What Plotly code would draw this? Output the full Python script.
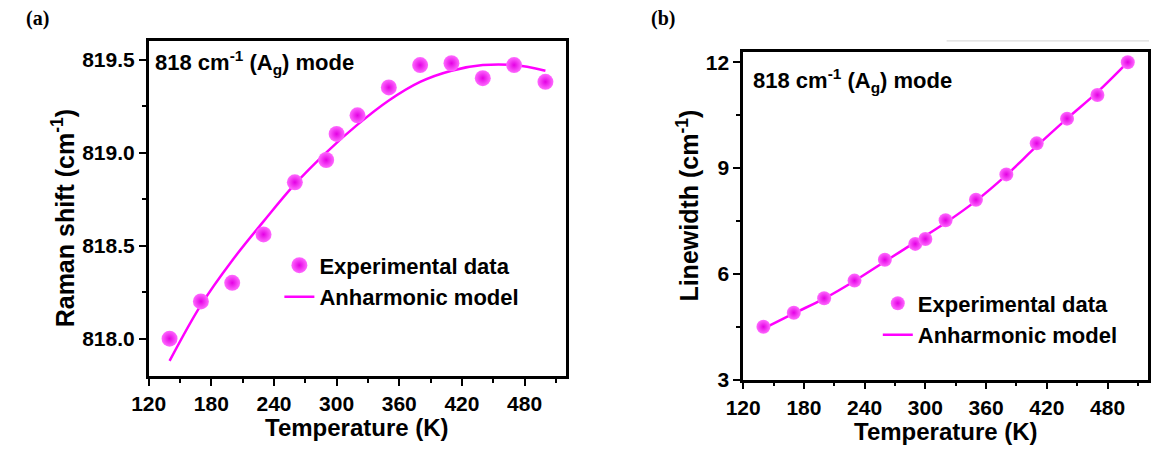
import plotly.graph_objects as go

# Temperature points (K)
temperature = [140, 170, 200, 230, 260, 290, 300, 320, 350, 380, 410, 440, 470, 500]

# (a) Raman shift of the 818 cm-1 Ag mode
raman_shift = [818.00, 818.20, 818.30, 818.56, 818.84, 818.96, 819.10, 819.20,
               819.35, 819.47, 819.48, 819.40, 819.47, 819.38]
fit_temperature_a = [140, 170, 200, 230, 260, 290, 320, 350, 380, 410, 440, 470, 500]
fit_raman_shift = [817.88, 818.18, 818.42, 818.63, 818.83, 819.00, 819.15, 819.28,
                   819.38, 819.44, 819.47, 819.47, 819.44]

# (b) Linewidth of the same mode
linewidth = [4.50, 4.90, 5.31, 5.81, 6.40, 6.85, 6.99, 7.52, 8.10, 8.82, 9.70,
             10.40, 11.07, 12.00]
fit_temperature_b = [140, 170, 200, 230, 260, 290, 320, 350, 380, 410, 440, 470, 500]
fit_linewidth = [4.45, 4.88, 5.30, 5.80, 6.35, 6.90, 7.45, 8.07, 8.80, 9.62, 10.40,
                 11.15, 12.00]

x_ticks = [120, 180, 240, 300, 360, 420, 480]
y_ticks_a = [818.0, 818.5, 819.0, 819.5]
y_ticks_b = [3, 6, 9, 12]

W, H = 1151, 455
MAGENTA = "#FF00FF"
FONT = "Liberation Sans, Arial, sans-serif"


def px_x(p):
    return p / W


def px_y(p):
    return (H - p) / H


fig = go.Figure()

sphere = dict(symbol="circle", color="#ff6aff",
              gradient=dict(type="radial", color="#e400e4"),
              line=dict(width=0))

# fitted curves first so the data spheres sit on top of them
fig.add_trace(go.Scatter(
    x=fit_temperature_a, y=fit_raman_shift, mode="lines", name="Anharmonic model",
    line=dict(color=MAGENTA, width=2.5, shape="spline"),
    xaxis="x", yaxis="y", legend="legend", legendrank=2))
fig.add_trace(go.Scatter(
    x=temperature, y=raman_shift, mode="markers", name="Experimental data",
    marker=dict(size=16, **sphere), xaxis="x", yaxis="y", legend="legend",
    legendrank=1))

fig.add_trace(go.Scatter(
    x=fit_temperature_b, y=fit_linewidth, mode="lines", name="Anharmonic model",
    line=dict(color=MAGENTA, width=2.5, shape="spline"),
    xaxis="x2", yaxis="y2", legend="legend2", legendrank=2))
fig.add_trace(go.Scatter(
    x=temperature, y=linewidth, mode="markers", name="Experimental data",
    marker=dict(size=14, **sphere), xaxis="x2", yaxis="y2", legend="legend2",
    legendrank=1))

axis_style = dict(
    showline=True, linecolor="black", linewidth=2.5, mirror=True,
    ticks="outside", ticklen=7, tickwidth=2, tickcolor="black",
    showgrid=False, zeroline=False,
    tickfont=dict(family=FONT, size=21, color="black", weight="bold"),
)
minor_style = dict(ticks="outside", ticklen=4, tickwidth=2, tickcolor="black")
legend_font = dict(family=FONT, size=22, color="black", weight="bold")

fig.update_layout(
    width=W, height=H,
    margin=dict(l=0, r=0, t=0, b=0),
    paper_bgcolor="white", plot_bgcolor="white",
    showlegend=True,
    xaxis=dict(domain=[px_x(133), px_x(558)], range=[120, 520],
               tickvals=x_ticks, anchor="y",
               minor=dict(tick0=150, dtick=60, **minor_style), **axis_style),
    yaxis=dict(domain=[px_y(385), px_y(41)], range=[817.8, 819.6],
               tickvals=y_ticks_a, tickformat=".1f", anchor="x",
               minor=dict(tick0=818.25, dtick=0.5, **minor_style), **axis_style),
    xaxis2=dict(domain=[px_x(738), px_x(1150)], range=[120, 520],
                tickvals=x_ticks, anchor="y2",
                minor=dict(tick0=150, dtick=60, **minor_style), **axis_style),
    yaxis2=dict(domain=[px_y(389), px_y(52)], range=[3, 12.3],
                tickvals=y_ticks_b, anchor="x2",
                minor=dict(tick0=4.5, dtick=3, **minor_style), **axis_style),
    legend=dict(x=px_x(266), y=px_y(250), xanchor="left", yanchor="top",
                bgcolor="rgba(0,0,0,0)", borderwidth=0, font=legend_font,
                traceorder="normal", itemsizing="trace"),
    legend2=dict(x=px_x(875), y=px_y(289), xanchor="left", yanchor="top",
                 bgcolor="rgba(0,0,0,0)", borderwidth=0, font=legend_font,
                 traceorder="normal", itemsizing="trace"),
)

xtitle_font = dict(family=FONT, size=24, color="black", weight="bold")
ytitle_font = dict(family=FONT, size=25, color="black", weight="bold")
label_font = dict(family=FONT, size=22, color="black", weight="bold")
panel_font = dict(family="Liberation Serif, Times New Roman, serif", size=20,
                  color="black", weight="bold")
mode_text = "818 cm<sup>-1</sup> (A<sub>g</sub>) mode"

annotations = [
    # panel letters
    dict(text="(a)", x=px_x(20), y=px_y(18), font=panel_font),
    dict(text="(b)", x=px_x(656), y=px_y(18), font=panel_font),
    # axis titles
    dict(text="Temperature (K)", x=px_x(345.5), y=px_y(438), font=xtitle_font),
    dict(text="Temperature (K)", x=px_x(944), y=px_y(442), font=xtitle_font),
    dict(text="Raman shift (cm<sup>-1</sup>)", x=px_x(46), y=px_y(223),
         textangle=-90, font=ytitle_font),
    dict(text="Linewidth (cm<sup>-1</sup>)", x=px_x(682), y=px_y(210),
         textangle=-90, font=ytitle_font),
    # mode labels
    dict(text=mode_text, x=px_x(137), y=px_y(63), xanchor="left", font=label_font),
    dict(text=mode_text, x=px_x(746), y=px_y(82), xanchor="left", font=label_font),
]
for a in annotations:
    a.setdefault("xanchor", "center")
    a.setdefault("yanchor", "middle")
    a.update(xref="paper", yref="paper", showarrow=False)
fig.update_layout(annotations=annotations)

# faint rule above panel (b)
fig.add_shape(type="line", xref="paper", yref="paper",
              x0=px_x(945), x1=1.0, y0=px_y(41), y1=px_y(41),
              line=dict(color="#d4d4d4", width=1))

fig.write_html("out.html")
